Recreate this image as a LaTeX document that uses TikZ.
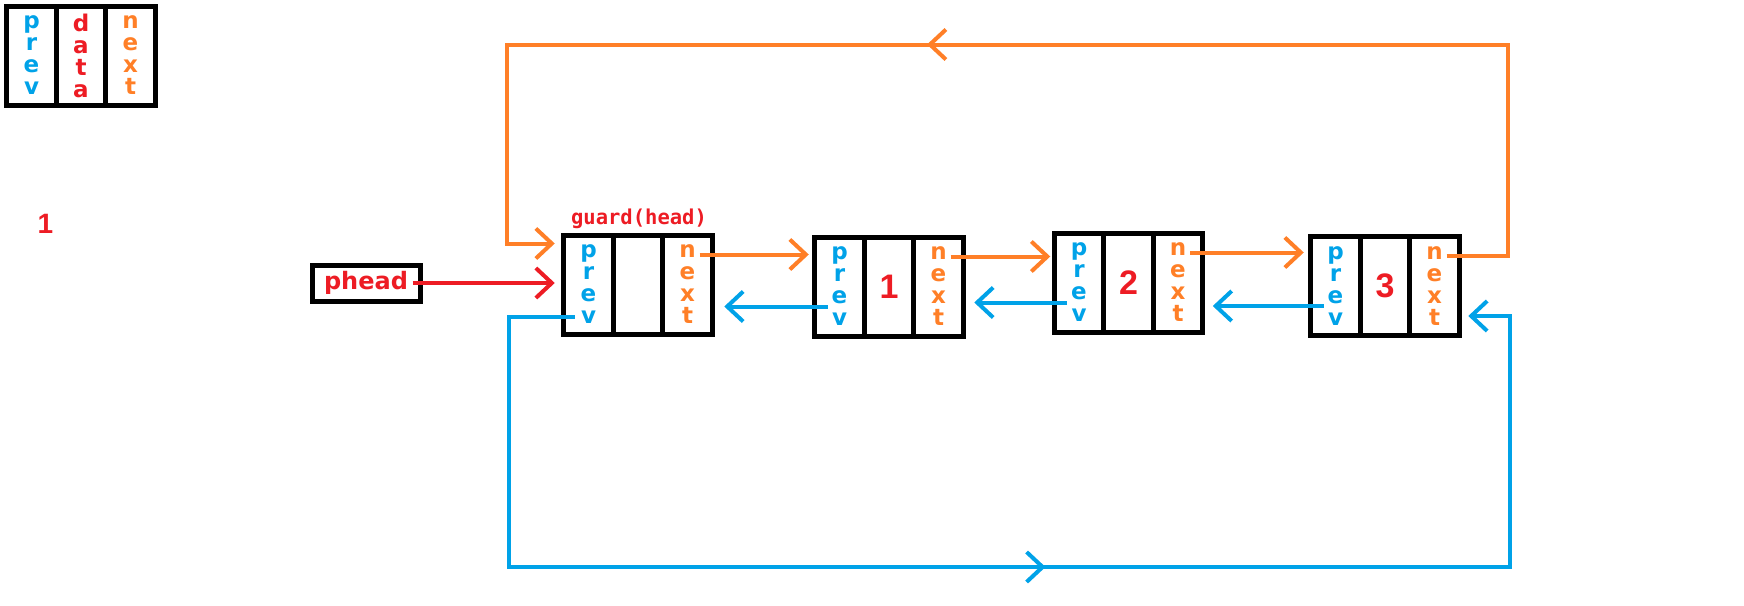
\documentclass[tikz,border=0pt]{standalone}
\usepackage{fontspec}
\setmainfont{DejaVu Sans}
\newfontfamily\digitfont{Liberation Sans}
\newfontfamily\guardfont{DejaVu Sans Mono}
\usetikzlibrary{arrows.meta,calc,positioning,decorations.markings}
\definecolor{pblue}{RGB}{0,162,232}
\definecolor{porange}{RGB}{255,127,39}
\definecolor{pred}{RGB}{237,28,36}
\newcommand{\letters}{\fontsize{23}{22}\selectfont\bfseries}
\newcommand{\digits}{\digitfont\fontsize{34}{34}\selectfont\bfseries}
\tikzset{
  cell/.style={draw, line width=5pt, minimum width=49.5pt, minimum height=99pt, inner sep=0pt, outer sep=0pt, align=center, font=\letters},
  prevcell/.style={cell, text=pblue},
  nextcell/.style={cell, text=porange},
  datacell/.style={cell, text=pred},
  tip/.style={-{Straight Barb[length=16pt,width=30pt]}},
  nextln/.style={draw=porange, line width=4pt, tip},
  prevln/.style={draw=pblue, line width=4pt, tip},
}
\begin{document}
\begin{tikzpicture}[x=1pt, y=-1pt]
            \useasboundingbox (0,0) rectangle (1744,605);
            % Draw the legend node
            \node[datacell] (ld) at (81,55.5) {d\\a\\t\\a};
            \node[prevcell, left=0pt of ld] (lp) {p\\r\\e\\v};
            \node[nextcell, right=0pt of ld] (ln) {n\\e\\x\\t};
            \node[text=pred, font=\digitfont\fontsize{28}{28}\selectfont\bfseries] (one) at (45.5,224) {1};
            % Draw the guard node
            \node[datacell] (gd) at (638,284.5) {};
            \node[prevcell, left=0pt of gd] (gp) {p\\r\\e\\v};
            \node[nextcell, right=0pt of gd] (gn) {n\\e\\x\\t};
            \node[text=pred, font=\guardfont\fontsize{20.5}{20.5}\selectfont\bfseries] (glabel) at (639,219) {guard(head)};
            \node[draw, line width=5pt, minimum width=108pt, minimum height=36pt, inner sep=0pt, text=pred, font=\fontsize{24}{24}\selectfont\bfseries] (phead) at (366,283) {phead};
            % Draw the data nodes
            \node[datacell, font=\digits] (n1d) at (889,286.5) {1};
            \node[prevcell, left=0pt of n1d] (n1p) {p\\r\\e\\v};
            \node[nextcell, right=0pt of n1d] (n1n) {n\\e\\x\\t};
            \node[datacell, font=\digits] (n2d) at (1128.5,282.5) {2};
            \node[prevcell, left=0pt of n2d] (n2p) {p\\r\\e\\v};
            \node[nextcell, right=0pt of n2d] (n2n) {n\\e\\x\\t};
            \node[datacell, font=\digits] (n3d) at (1385,286) {3};
            \node[prevcell, left=0pt of n3d] (n3p) {p\\r\\e\\v};
            \node[nextcell, right=0pt of n3d] (n3n) {n\\e\\x\\t};
            % Points where the links leave the cells
            \coordinate (go) at ([shift={(12,-30)}]gn.center);
            \coordinate (n1o) at ([shift={(12,-30)}]n1n.center);
            \coordinate (n2o) at ([shift={(12,-30)}]n2n.center);
            \coordinate (n3o) at ([shift={(12,-30)}]n3n.center);
            \coordinate (gb) at ([shift={(-14,32.5)}]gp.center);
            \coordinate (n1b) at ([shift={(-12,20)}]n1p.center);
            \coordinate (n2b) at ([shift={(-12,20)}]n2p.center);
            \coordinate (n3b) at ([shift={(-12,20)}]n3p.center);
            \coordinate (ph) at ([xshift=-10pt]phead.east);
            \coordinate (gin) at ([shift={(-9,-41)}]gp.west);
            \coordinate (n3in) at ([shift={(9,30)}]n3n.east);
            \coordinate (oL) at (507,44.5);
            \coordinate (oR) at (1508,44.5);
            \coordinate (bL) at (509,567);
            \coordinate (bR) at (1510,567);
            % Draw next links
            \draw[nextln, shorten >=6pt] (go) -- (go -| n1p.west);
            \draw[nextln, shorten >=4pt] (n1o) -- (n1o -| n2p.west);
            \draw[nextln, shorten >=7pt] (n2o) -- (n2o -| n3p.west);
            % Draw prev links
            \draw[prevln, shorten >=12pt] (n1b) -- (n1b -| gn.east);
            \draw[prevln, shorten >=11pt] (n2b) -- (n2b -| n1n.east);
            \draw[prevln, shorten >=10pt] (n3b) -- (n3b -| n2n.east);
            % Draw head pointer
            \draw[draw=pred, line width=4pt, tip, shorten >=9pt] (ph) -- (ph -| gp.west);
            % Draw the two loops back round
            \draw[nextln, postaction={decorate}, decoration={markings, mark=at position 854pt with {\arrow{Straight Barb[length=16pt,width=30pt]}}}]
              (n3o) -- (n3o -| oR) -- (oR) -- (oL) -- (oL |- gin) -- (gin);
            \draw[prevln, postaction={decorate}, decoration={markings, mark=at position 852pt with {\arrow{Straight Barb[length=16pt,width=30pt]}}}]
              (gb) -- (gb -| bL) -- (bL) -- (bR) -- (bR |- n3in) -- (n3in);
\end{tikzpicture}
\end{document}
